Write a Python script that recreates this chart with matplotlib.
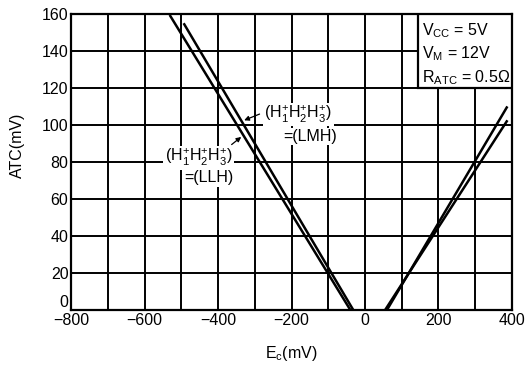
import matplotlib.pyplot as plt
from matplotlib.patches import Rectangle

plt.rcParams['font.family'] = ['Liberation Sans', 'DejaVu Sans']
plt.rcParams['mathtext.fontset'] = 'custom'
plt.rcParams['mathtext.rm'] = 'Liberation Sans'
plt.rcParams['mathtext.it'] = 'Liberation Sans'

# line end points (Ec in mV, ATC in mV)
llh_x = [-530, -40]
llh_y = [159, 0]
lmh_x = [-492, -32]
lmh_y = [154.5, 0]
pos1_x = [60, 386]
pos1_y = [0, 109.5]
pos2_x = [55, 386]
pos2_y = [0, 102]

xticks = [-800, -600, -400, -200, 0, 200, 400]
yticks = [0, 20, 40, 60, 80, 100, 120, 140, 160]

fs = 11.5

fig = plt.figure(figsize=(5.31, 3.72), dpi=100)
ax = fig.add_axes([0.134, 0.167, 0.83, 0.795])

for x, y in [(llh_x, llh_y), (lmh_x, lmh_y), (pos1_x, pos1_y), (pos2_x, pos2_y)]:
    ax.plot(x, y, color='black', lw=1.8, zorder=3)

ax.set_xlim(-800, 400)
ax.set_ylim(0, 160)
ax.set_xticks(range(-800, 401, 100))
ax.set_xticklabels([('\u2212' + str(-v) if v < 0 else str(v)) if v in xticks else ''
                    for v in range(-800, 401, 100)])
ax.set_yticks(yticks)
ax.set_yticklabels([str(v) for v in yticks])
ax.get_yticklabels()[0].set_va('bottom')
ax.grid(True, color='black', lw=1.4)
ax.set_axisbelow(True)
ax.tick_params(length=0, labelsize=fs, pad=2)
for s in ax.spines.values():
    s.set_linewidth(1.6)

ax.set_xlabel(r'E$_\mathregular{c}$(mV)', fontsize=fs, labelpad=12)
ax.set_ylabel('ATC(mV)', fontsize=fs)
ax.yaxis.set_label_coords(-0.105, 0.557)

# labels for the two left lines
bb = dict(facecolor='white', edgecolor='none', pad=1.0)
lab = r'(H$_\mathregular{1}^\mathregular{+}$H$_\mathregular{2}^\mathregular{+}$H$_\mathregular{3}^\mathregular{+}$)'
ax.text(-274, 105.7, lab, fontsize=fs, va='center', ha='left', bbox=bb, zorder=4)
ax.text(-222, 93.8, '=(LMH)', fontsize=fs, va='center', ha='left', bbox=bb, zorder=4)
ax.text(-545, 82.4, lab, fontsize=fs, va='center', ha='left', bbox=bb, zorder=4)
ax.text(-491, 71.5, '=(LLH)', fontsize=fs, va='center', ha='left', bbox=bb, zorder=4)
ax.annotate('', xy=(-336, 102), xytext=(-280, 106.5),
            arrowprops=dict(arrowstyle='-|>', color='black', lw=0.9, mutation_scale=7), zorder=5)
ax.annotate('', xy=(-331, 94.5), xytext=(-369, 88.5),
            arrowprops=dict(arrowstyle='-|>', color='black', lw=0.9, mutation_scale=7), zorder=5)

# condition box
ax.add_patch(Rectangle((0.787, 0.75), 0.213, 0.25, transform=ax.transAxes,
                       facecolor='white', edgecolor='black', lw=1.6, zorder=4))
conds = [r'V$_\mathregular{CC}$ = 5V', r'V$_\mathregular{M}$ = 12V', r'R$_\mathregular{ATC}$ = 0.5$\Omega$']
for i, c in enumerate(conds):
    ax.text(0.797, 0.945 - i * 0.08, c, transform=ax.transAxes, fontsize=fs,
            va='center', ha='left', zorder=5)

fig.savefig('out.png', dpi=100)
